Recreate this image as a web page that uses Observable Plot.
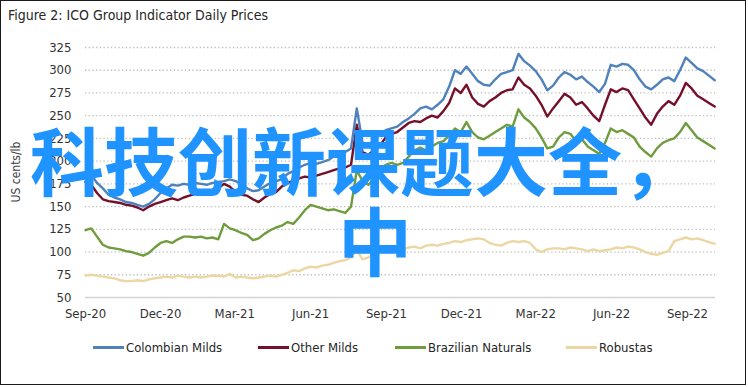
<!DOCTYPE html>
<html>
<head>
<meta charset="utf-8">
<script src="https://cdn.jsdelivr.net/npm/d3@7"></script>
<script src="https://cdn.jsdelivr.net/npm/@observablehq/plot@0.6"></script>
<style>
  html, body { margin: 0; padding: 0; background: #fff; }
  body { width: 748px; height: 387px; position: relative; overflow: hidden;
         font-family: "Liberation Sans Narrow", "DejaVu Sans Condensed", "Roboto", sans-serif; font-stretch: condensed; }
  #frame { position: absolute; left: 0; top: 0; width: 744px; height: 383px; border: 1.5px solid #1a1a1a; }
  #title { position: absolute; left: 8px; top: 7px; font-size: 14px; color: #262626; white-space: nowrap; }
  #ylabel { position: absolute; left: 16px; top: 172px; transform: translate(-50%, -50%) rotate(-90deg);
            font-size: 12px; color: #404040; white-space: nowrap; }
  #chart { position: absolute; left: 0; top: 0; }
  #legend { position: absolute; left: 0; top: 340px; width: 748px; height: 18px; }
  .item { position: absolute; top: 0; display: flex; align-items: center; font-size: 13px; color: #262626; white-space: nowrap; }
  .sw { display: inline-block; width: 31px; height: 3px; margin-right: 2px; }
  .wm { position: absolute; font-family: "Noto Sans CJK SC", sans-serif; font-weight: 700; color: #1f93ff;
        font-size: 74px; line-height: 1; white-space: nowrap; font-stretch: normal; }
</style>
</head>
<body>
<div id="frame"></div>
<div id="title">Figure 2: ICO Group Indicator Daily Prices</div>
<div id="chart"></div>
<div id="ylabel">US cents/lb</div>
<div id="legend"></div>
<div class="wm" id="wm1" style="left:30px; top:121px;">科技创新课题大全，</div>
<div class="wm" id="wm2" style="left:338px; top:201px;">中</div>
<script>
const dates = `
2020-09-01 2020-09-08 2020-09-15 2020-09-22 2020-09-29 2020-10-06 2020-10-13 2020-10-20 2020-10-27 2020-11-03
2020-11-10 2020-11-17 2020-11-24 2020-12-01 2020-12-08 2020-12-15 2020-12-22 2020-12-29 2021-01-05 2021-01-12
2021-01-19 2021-01-26 2021-02-02 2021-02-09 2021-02-16 2021-02-23 2021-03-02 2021-03-09 2021-03-16 2021-03-23
2021-03-30 2021-04-06 2021-04-13 2021-04-20 2021-04-27 2021-05-04 2021-05-11 2021-05-18 2021-05-25 2021-06-01
2021-06-08 2021-06-15 2021-06-22 2021-06-29 2021-07-06 2021-07-13 2021-07-20 2021-07-27 2021-08-03 2021-08-10
2021-08-17 2021-08-24 2021-08-31 2021-09-07 2021-09-14 2021-09-21 2021-09-28 2021-10-05 2021-10-12 2021-10-19
2021-10-26 2021-11-02 2021-11-09 2021-11-16 2021-11-23 2021-11-30 2021-12-07 2021-12-14 2021-12-21 2021-12-28
2022-01-04 2022-01-11 2022-01-18 2022-01-25 2022-02-01 2022-02-08 2022-02-15 2022-02-22 2022-03-01 2022-03-08
2022-03-15 2022-03-22 2022-03-29 2022-04-05 2022-04-12 2022-04-19 2022-04-26 2022-05-03 2022-05-10 2022-05-17
2022-05-24 2022-05-31 2022-06-07 2022-06-14 2022-06-21 2022-06-28 2022-07-05 2022-07-12 2022-07-19 2022-07-26
2022-08-02 2022-08-09 2022-08-16 2022-08-23 2022-08-30 2022-09-06 2022-09-13 2022-09-20 2022-09-27 2022-10-04
`.trim().split(/\s+/);

const colombianMilds = [
188,185,176,170,163,160,158,155,154,152,
150,153,158,165,170,174,173,175,174,176,
175,174,176,177,178,180,178,175,170,167,
168,172,176,178,180,186,189,193,196,198,
197,199,201,205,208,210,214,258,220,218,
223,230,234,236,238,243,247,252,258,260,
257,262,268,282,300,296,304,296,288,284,
283,290,296,298,300,318,310,305,299,290,
278,283,292,298,295,290,293,287,282,276,
285,306,304,307,306,300,290,282,279,284,
290,292,288,300,314,308,302,299,294,289];

const otherMilds = [
177,174,165,158,156,155,154,152,151,149,
146,150,153,155,157,159,157,160,162,164,
165,166,168,170,175,172,166,163,162,158,
155,160,164,166,172,176,178,181,183,182,
184,186,188,190,192,193,196,240,210,207,
212,217,226,230,232,237,242,244,243,247,
250,248,255,264,280,275,284,270,263,260,
266,270,275,278,279,292,284,280,272,262,
249,258,266,274,270,262,265,258,250,244,
262,279,276,280,278,268,258,248,240,252,
260,266,262,272,286,280,272,268,264,260];

const brazilianNaturals = [
124,126,117,108,105,104,103,101,100,98,
96,99,105,110,112,110,114,117,117,116,
117,115,116,114,131,126,124,121,119,113,
115,120,124,127,129,133,131,138,146,152,
150,148,146,147,145,143,150,190,178,174,
180,190,196,198,196,198,205,212,215,212,
216,220,222,228,236,232,243,232,226,224,
228,232,236,240,238,257,248,243,236,226,
214,216,226,232,230,222,224,216,212,208,
220,236,232,234,230,226,216,210,205,214,
220,223,225,232,242,234,226,222,218,214];

const robustas = [
74,75,74,73,72,71,69,68,68,69,
68,70,71,72,73,72,74,73,72,73,
72,73,74,74,73,76,72,73,72,71,
72,73,74,73,75,77,80,79,82,84,
83,85,86,88,90,91,94,102,92,94,
98,101,104,103,104,103,105,106,104,107,
108,107,109,110,112,111,113,114,115,114,
110,108,107,110,112,111,112,110,103,100,
103,104,104,103,105,104,103,101,103,101,
102,103,105,104,106,105,103,100,98,97,
99,101,112,114,116,114,115,113,111,109];

const seriesNames = ["Colombian Milds", "Other Milds", "Brazilian Naturals", "Robustas"];
const seriesColors = ["#4f81bd", "#74102a", "#6f9c3d", "#ecd7a3"];
const seriesValues = [colombianMilds, otherMilds, brazilianNaturals, robustas];

const xTicks = ["2020-09-01","2020-12-01","2021-03-01","2021-06-01","2021-09-01","2021-12-01","2022-03-01","2022-06-01","2022-09-01"];
const yTicks = [50,75,100,125,150,175,200,225,250,275,300,325];

const rows = [];
// draw order: robustas under, colombian on top
[3,2,1,0].forEach(k => {
  seriesValues[k].forEach((v, i) => rows.push({date: new Date(dates[i]), value: v, series: seriesNames[k]}));
});

const chart = Plot.plot({
  width: 748,
  height: 330,
  marginLeft: 85,
  marginRight: 33,
  marginTop: 47,
  marginBottom: 33,
  style: {fontFamily: '"Liberation Sans Narrow", "DejaVu Sans Condensed", Roboto, sans-serif', fontSize: "13px", color: "#333", background: "transparent"},
  x: {type: "utc", domain: [new Date("2020-09-01"), new Date("2022-10-05")],
      ticks: xTicks.map(d => new Date(d)), tickFormat: d3.utcFormat("%b-%y"),
      tickSize: 0, tickPadding: 11, label: null},
  y: {domain: [50, 325], ticks: yTicks, tickSize: 0, tickPadding: 14, label: null},
  color: {domain: seriesNames, range: seriesColors},
  marks: [
    Plot.ruleY(yTicks.filter(v => v > 50), {stroke: "#bdbdbd", strokeWidth: 1.3, strokeDasharray: "1.3,2.4"}),
    Plot.ruleY([50], {stroke: "#d4d4d4", strokeWidth: 1.3}),
    Plot.line(rows, {x: "date", y: "value", z: "series", stroke: "series", strokeWidth: 2.4, strokeLinejoin: "round"})
  ]
});
document.getElementById("chart").appendChild(chart);

const legendPos = [93, 258, 395, 566];
const legend = document.getElementById("legend");
seriesNames.forEach((n, k) => {
  const it = document.createElement("div");
  it.className = "item";
  it.style.left = legendPos[k] + "px";
  it.innerHTML = `<span class="sw" style="background:${seriesColors[k]}"></span><span>${n}</span>`;
  legend.appendChild(it);
});
</script>
</body>
</html>
